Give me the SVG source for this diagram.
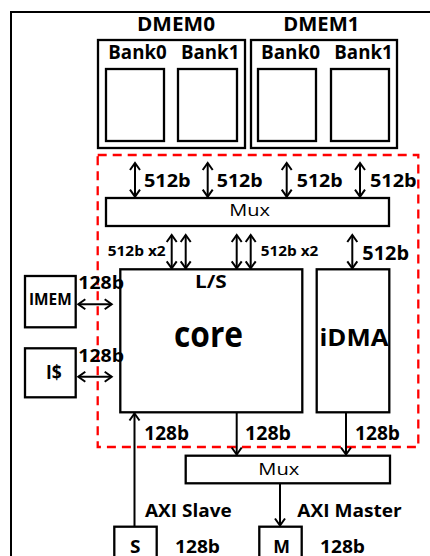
<svg xmlns="http://www.w3.org/2000/svg" width="430" height="556" viewBox="0 0 430 556">
<style>
.b{fill:#fff;stroke:#000;stroke-width:2.3}
.t{font-family:"Open Sans","Liberation Sans",sans-serif;font-weight:bold;fill:#000}
.r{font-family:"Open Sans","Liberation Sans",sans-serif;font-weight:normal;fill:#000}
.c{stroke:#000;stroke-width:2;fill:none}
</style>
<defs>
<marker id="ah" viewBox="-9 -7 11 14" refX="0" refY="0" markerWidth="11" markerHeight="14" markerUnits="userSpaceOnUse" orient="auto-start-reverse">
<path d="M-7,-5 L0,0 L-7,5" fill="none" stroke="#000" stroke-width="2"/>
</marker>
</defs>
<rect x="0" y="0" width="430" height="556" fill="#fff"/>
<rect id="frame" x="11" y="12" width="440" height="560" fill="none" stroke="#000" stroke-width="2"/>
<g id="dmem0">
<rect class="b" x="98" y="40" width="147" height="108"/>
<text class="t" x="137" y="30.7" font-size="19.5" textLength="78" lengthAdjust="spacingAndGlyphs">DMEM0</text>
</g>
<g id="dmem0-bank0">
<rect class="b" x="106" y="69" width="58" height="72"/>
<text class="t" x="108.3" y="59.3" font-size="19" textLength="58.4" lengthAdjust="spacingAndGlyphs">Bank0</text>
</g>
<g id="dmem0-bank1">
<rect class="b" x="178" y="69" width="59" height="72"/>
<text class="t" x="181" y="59.3" font-size="19" textLength="58.3" lengthAdjust="spacingAndGlyphs">Bank1</text>
</g>
<g id="dmem1">
<rect class="b" x="251" y="40" width="146" height="108"/>
<text class="t" x="283.3" y="30.7" font-size="19.5" textLength="76" lengthAdjust="spacingAndGlyphs">DMEM1</text>
</g>
<g id="dmem1-bank0">
<rect class="b" x="258" y="69" width="58" height="72"/>
<text class="t" x="261" y="59.3" font-size="19" textLength="59" lengthAdjust="spacingAndGlyphs">Bank0</text>
</g>
<g id="dmem1-bank1">
<rect class="b" x="331" y="69" width="58" height="72"/>
<text class="t" x="334.3" y="59.3" font-size="19" textLength="58.4" lengthAdjust="spacingAndGlyphs">Bank1</text>
</g>
<g id="cluster">
<rect x="97.7" y="155" width="320.6" height="292" fill="none" stroke="#f00" stroke-width="2.3" stroke-dasharray="9,6"/>
</g>
<g id="mux-top">
<rect class="b" x="106" y="198" width="283" height="28"/>
<text class="r" x="229.3" y="215.7" font-size="17" textLength="40.7" lengthAdjust="spacingAndGlyphs">Mux</text>
</g>
<g id="core">
<rect class="b" x="120.3" y="269.3" width="182" height="143"/>
<text class="t" x="195" y="288.3" font-size="18.5" textLength="31.7" lengthAdjust="spacingAndGlyphs">L/S</text>
<text class="t" x="174" y="347.3" font-size="36" textLength="69" lengthAdjust="spacingAndGlyphs">core</text>
</g>
<g id="idma">
<rect class="b" x="316.7" y="269.3" width="72.6" height="143"/>
<text class="t" x="319.5" y="346" font-size="24" textLength="69" lengthAdjust="spacingAndGlyphs">iDMA</text>
</g>
<g id="imem">
<rect class="b" x="25" y="276" width="50.7" height="51.3"/>
<text class="t" x="29" y="305" font-size="15.5" textLength="42.7" lengthAdjust="spacingAndGlyphs">IMEM</text>
</g>
<g id="icache">
<rect class="b" x="25" y="348.3" width="50.7" height="49"/>
<text class="t" x="46" y="379.3" font-size="19.5" textLength="15.7" lengthAdjust="spacingAndGlyphs">I$</text>
</g>
<g id="mux-bottom">
<rect class="b" x="185.7" y="455.7" width="204.3" height="27.6"/>
<text class="r" x="258.3" y="475" font-size="17" textLength="41" lengthAdjust="spacingAndGlyphs">Mux</text>
</g>
<g id="slave">
<rect class="b" x="114.3" y="526.7" width="42.4" height="40"/>
<text class="t" x="130" y="553.3" font-size="18.5" textLength="10.5" lengthAdjust="spacingAndGlyphs">S</text>
</g>
<g id="master">
<rect class="b" x="259.3" y="526.7" width="42.4" height="40"/>
<text class="t" x="273.3" y="553.3" font-size="18.5" textLength="16.7" lengthAdjust="spacingAndGlyphs">M</text>
</g>
<g id="connectors">
<line class="c" x1="135" y1="163" x2="135" y2="196.7" marker-start="url(#ah)" marker-end="url(#ah)"/>
<line class="c" x1="207.7" y1="163" x2="207.7" y2="196.7" marker-start="url(#ah)" marker-end="url(#ah)"/>
<line class="c" x1="286.7" y1="163" x2="286.7" y2="196.7" marker-start="url(#ah)" marker-end="url(#ah)"/>
<line class="c" x1="360" y1="163" x2="360" y2="196.7" marker-start="url(#ah)" marker-end="url(#ah)"/>
<line class="c" x1="171.7" y1="235" x2="171.7" y2="268.3" marker-start="url(#ah)" marker-end="url(#ah)"/>
<line class="c" x1="185.7" y1="235" x2="185.7" y2="268.3" marker-start="url(#ah)" marker-end="url(#ah)"/>
<line class="c" x1="236.7" y1="235" x2="236.7" y2="268.3" marker-start="url(#ah)" marker-end="url(#ah)"/>
<line class="c" x1="250.7" y1="235" x2="250.7" y2="268.3" marker-start="url(#ah)" marker-end="url(#ah)"/>
<line class="c" x1="352.3" y1="235" x2="352.3" y2="268.3" marker-start="url(#ah)" marker-end="url(#ah)"/>
<line class="c" x1="78.3" y1="304.3" x2="111.7" y2="304.3" marker-start="url(#ah)" marker-end="url(#ah)"/>
<line class="c" x1="78.3" y1="376.7" x2="111.7" y2="376.7" marker-start="url(#ah)" marker-end="url(#ah)"/>
<line class="c" x1="134.5" y1="526.7" x2="134.5" y2="413.5" marker-end="url(#ah)"/>
<line class="c" x1="236.7" y1="412.3" x2="236.7" y2="454.5" marker-end="url(#ah)"/>
<line class="c" x1="346" y1="412.3" x2="346" y2="454.5" marker-end="url(#ah)"/>
<line class="c" x1="280" y1="483.3" x2="280" y2="525.5" marker-end="url(#ah)"/>
<text class="t" x="144" y="187.3" font-size="18.5" textLength="46.7" lengthAdjust="spacingAndGlyphs">512b</text>
<text class="t" x="216.7" y="187.3" font-size="18.5" textLength="46" lengthAdjust="spacingAndGlyphs">512b</text>
<text class="t" x="296.7" y="187.3" font-size="18.5" textLength="46" lengthAdjust="spacingAndGlyphs">512b</text>
<text class="t" x="370" y="187.3" font-size="18.5" textLength="46.7" lengthAdjust="spacingAndGlyphs">512b</text>
<text class="t" x="107.7" y="255.7" font-size="14" textLength="58" lengthAdjust="spacingAndGlyphs">512b x2</text>
<text class="t" x="260.7" y="255.7" font-size="14" textLength="57.6" lengthAdjust="spacingAndGlyphs">512b x2</text>
<text class="t" x="362.3" y="260" font-size="20" textLength="46.7" lengthAdjust="spacingAndGlyphs">512b</text>
<text class="t" x="78.3" y="289" font-size="17.5" textLength="45.7" lengthAdjust="spacingAndGlyphs">128b</text>
<text class="t" x="78.3" y="361.7" font-size="17.5" textLength="45.7" lengthAdjust="spacingAndGlyphs">128b</text>
<text class="t" x="144.3" y="440" font-size="19.5" textLength="44.7" lengthAdjust="spacingAndGlyphs">128b</text>
<text class="t" x="245" y="440" font-size="19.5" textLength="46" lengthAdjust="spacingAndGlyphs">128b</text>
<text class="t" x="355" y="440" font-size="19.5" textLength="45" lengthAdjust="spacingAndGlyphs">128b</text>
<text class="t" x="145" y="516.7" font-size="18.5" textLength="86.7" lengthAdjust="spacingAndGlyphs">AXI Slave</text>
<text class="t" x="297.3" y="516.7" font-size="18.5" textLength="104.4" lengthAdjust="spacingAndGlyphs">AXI Master</text>
<text class="t" x="175" y="553.3" font-size="18.5" textLength="45" lengthAdjust="spacingAndGlyphs">128b</text>
<text class="t" x="320" y="553.3" font-size="18.5" textLength="45" lengthAdjust="spacingAndGlyphs">128b</text>
</g>
</svg>
